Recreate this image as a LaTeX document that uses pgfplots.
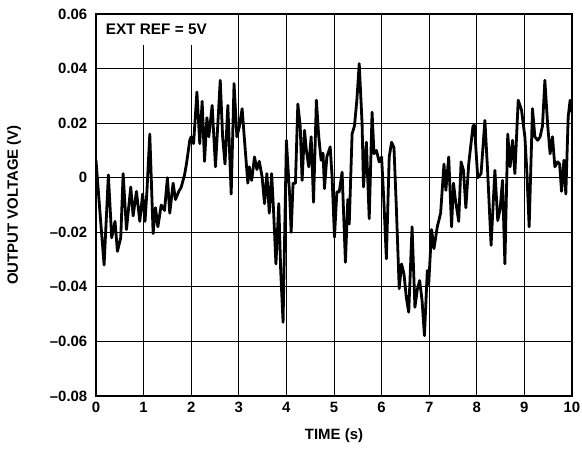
\documentclass[border=0pt]{standalone}
\usepackage{fontspec}
\setmainfont{Liberation Sans}
\usepackage{pgfplots}
\pgfplotsset{compat=1.18}
\begin{document}
\begin{tikzpicture}
\begin{axis}[
  scale only axis,
  width=357pt, height=286.5pt,
  xmin=0, xmax=10, ymin=-0.08, ymax=0.06,
  xtick={0,1,...,10},
  xticklabels={0,1,2,3,4,5,6,7,8,9,10},
  ytick={-0.08,-0.06,-0.04,-0.02,0,0.02,0.04,0.06},
  yticklabels={–0.08,–0.06,–0.04,–0.02,0,0.02,0.04,0.06},
  scaled y ticks=false, scaled x ticks=false,
  major tick length=0pt,
  grid=major,
  major grid style={black, line width=0.75pt},
  axis line style={black, line width=1.4pt},
  tick label style={font=\fontsize{11.2}{13}\selectfont\bfseries},
  yticklabel style={xshift=-3pt},
  xticklabel style={yshift=-1pt},
  label style={font=\fontsize{11.2}{13}\selectfont\bfseries},
  xlabel={TIME (s)},
  ylabel={OUTPUT VOLTAGE (V)},
  xlabel style={at={(axis description cs:0.5,-0.1047)}, anchor=center},
  ylabel style={at={(axis description cs:-0.1723,0.5)}, anchor=center},
]
\fill[white] (axis cs:0.02,0.0488) rectangle (axis cs:2.6,0.0598);
\node[anchor=west, font=\fontsize{11.5}{13}\selectfont\bfseries, inner sep=0pt] at (axis cs:0.2,0.0545) {EXT REF = 5V};
\addplot[black, line width=2.1pt, line join=round] coordinates {
(0.00,0.0064) (0.08,-0.012) (0.17,-0.032) (0.26,0.001) (0.33,-0.022) (0.40,-0.016)
(0.45,-0.027) (0.52,-0.022) (0.57,0.0015) (0.64,-0.019) (0.73,-0.0034) (0.78,-0.014)
(0.85,-0.005) (0.92,-0.016) (0.98,-0.006) (1.03,-0.016) (1.07,-0.005) (1.13,0.016)
(1.20,-0.0205) (1.25,-0.011) (1.30,-0.018) (1.37,-0.010) (1.44,-0.012) (1.50,0.000)
(1.55,-0.013) (1.62,-0.002) (1.67,-0.008) (1.74,-0.005) (1.79,-0.0035) (1.86,0.001)
(1.90,0.005) (1.97,0.0137) (2.00,0.015) (2.05,0.0125) (2.12,0.0314) (2.18,0.0125)
(2.23,0.028) (2.28,0.006) (2.33,0.022) (2.37,0.015) (2.44,0.0265) (2.51,0.004)
(2.61,0.0357) (2.66,0.015) (2.71,0.005) (2.77,0.0265) (2.84,-0.006) (2.90,0.0345)
(2.96,0.015) (3.01,0.0186) (3.07,0.0253) (3.12,0.0137) (3.19,-0.002) (3.22,0.004)
(3.27,-0.001) (3.33,0.0076) (3.38,0.003) (3.43,0.006) (3.49,0.0003) (3.54,-0.0095)
(3.59,0.0015) (3.64,-0.013) (3.69,0.0015) (3.73,-0.012) (3.78,-0.0316) (3.84,-0.0095)
(3.88,-0.034) (3.93,-0.053) (4.00,0.0137) (4.07,-0.007) (4.10,-0.020) (4.14,-0.002)
(4.19,-0.002) (4.24,0.027) (4.29,0.019) (4.33,-0.001) (4.38,0.0174) (4.42,0.010)
(4.47,0.004) (4.52,0.015) (4.57,-0.009) (4.63,0.0284) (4.68,0.015) (4.73,0.0064)
(4.77,0.009) (4.80,-0.004) (4.85,0.0076) (4.92,0.0113) (4.96,0.0003) (5.01,-0.0218)
(5.06,-0.0052) (5.11,-0.0052) (5.17,0.002) (5.24,-0.031) (5.29,-0.008) (5.32,-0.017)
(5.38,0.016) (5.43,0.019) (5.48,0.0284) (5.53,0.0418) (5.59,0.0198) (5.62,-0.0034)
(5.68,0.013) (5.74,-0.015) (5.80,0.024) (5.84,0.0088) (5.89,0.010) (5.95,0.0058)
(6.00,0.0076) (6.05,-0.0095) (6.10,-0.0297) (6.16,0.0076) (6.21,0.013) (6.26,0.011)
(6.31,-0.011) (6.37,-0.0407) (6.42,-0.0316) (6.47,-0.0353) (6.52,-0.044) (6.57,-0.0493)
(6.64,-0.018) (6.70,-0.0475) (6.75,-0.041) (6.80,-0.0377) (6.85,-0.045) (6.90,-0.0579)
(6.96,-0.034) (6.99,-0.039) (7.05,-0.019) (7.10,-0.026) (7.17,-0.018) (7.24,-0.013)
(7.31,0.005) (7.35,-0.0046) (7.41,0.0076) (7.47,-0.018) (7.51,-0.002) (7.55,-0.008)
(7.62,-0.016) (7.67,0.0058) (7.72,0.0027) (7.77,-0.011) (7.83,0.005) (7.92,0.019)
(7.95,0.0192) (8.02,0.000) (8.09,0.0015) (8.17,0.021) (8.23,0.0015) (8.30,-0.0248)
(8.38,0.0027) (8.44,-0.0157) (8.49,-0.0114) (8.54,-0.001) (8.59,-0.0316) (8.65,0.016)
(8.70,0.004) (8.75,0.0137) (8.80,0.0015) (8.87,0.0284) (8.94,0.0247) (9.01,0.015)
(9.05,0.0027) (9.10,-0.018) (9.17,0.0253) (9.22,0.015) (9.28,0.0137) (9.33,0.015)
(9.38,0.019) (9.43,0.0357) (9.49,0.019) (9.54,0.0088) (9.59,0.015) (9.64,0.004)
(9.70,0.0058) (9.74,0.005) (9.78,-0.005) (9.83,0.0064) (9.87,-0.006) (9.92,0.0223)
(9.96,0.0284) (9.98,0.024)
};
\end{axis}
\pgfresetboundingbox
\path[use as bounding box] ([shift={(-72pt,-42pt)}]current axis.south west) rectangle ([shift={(7.5pt,10.5pt)}]current axis.north east);
\end{tikzpicture}
\end{document}
